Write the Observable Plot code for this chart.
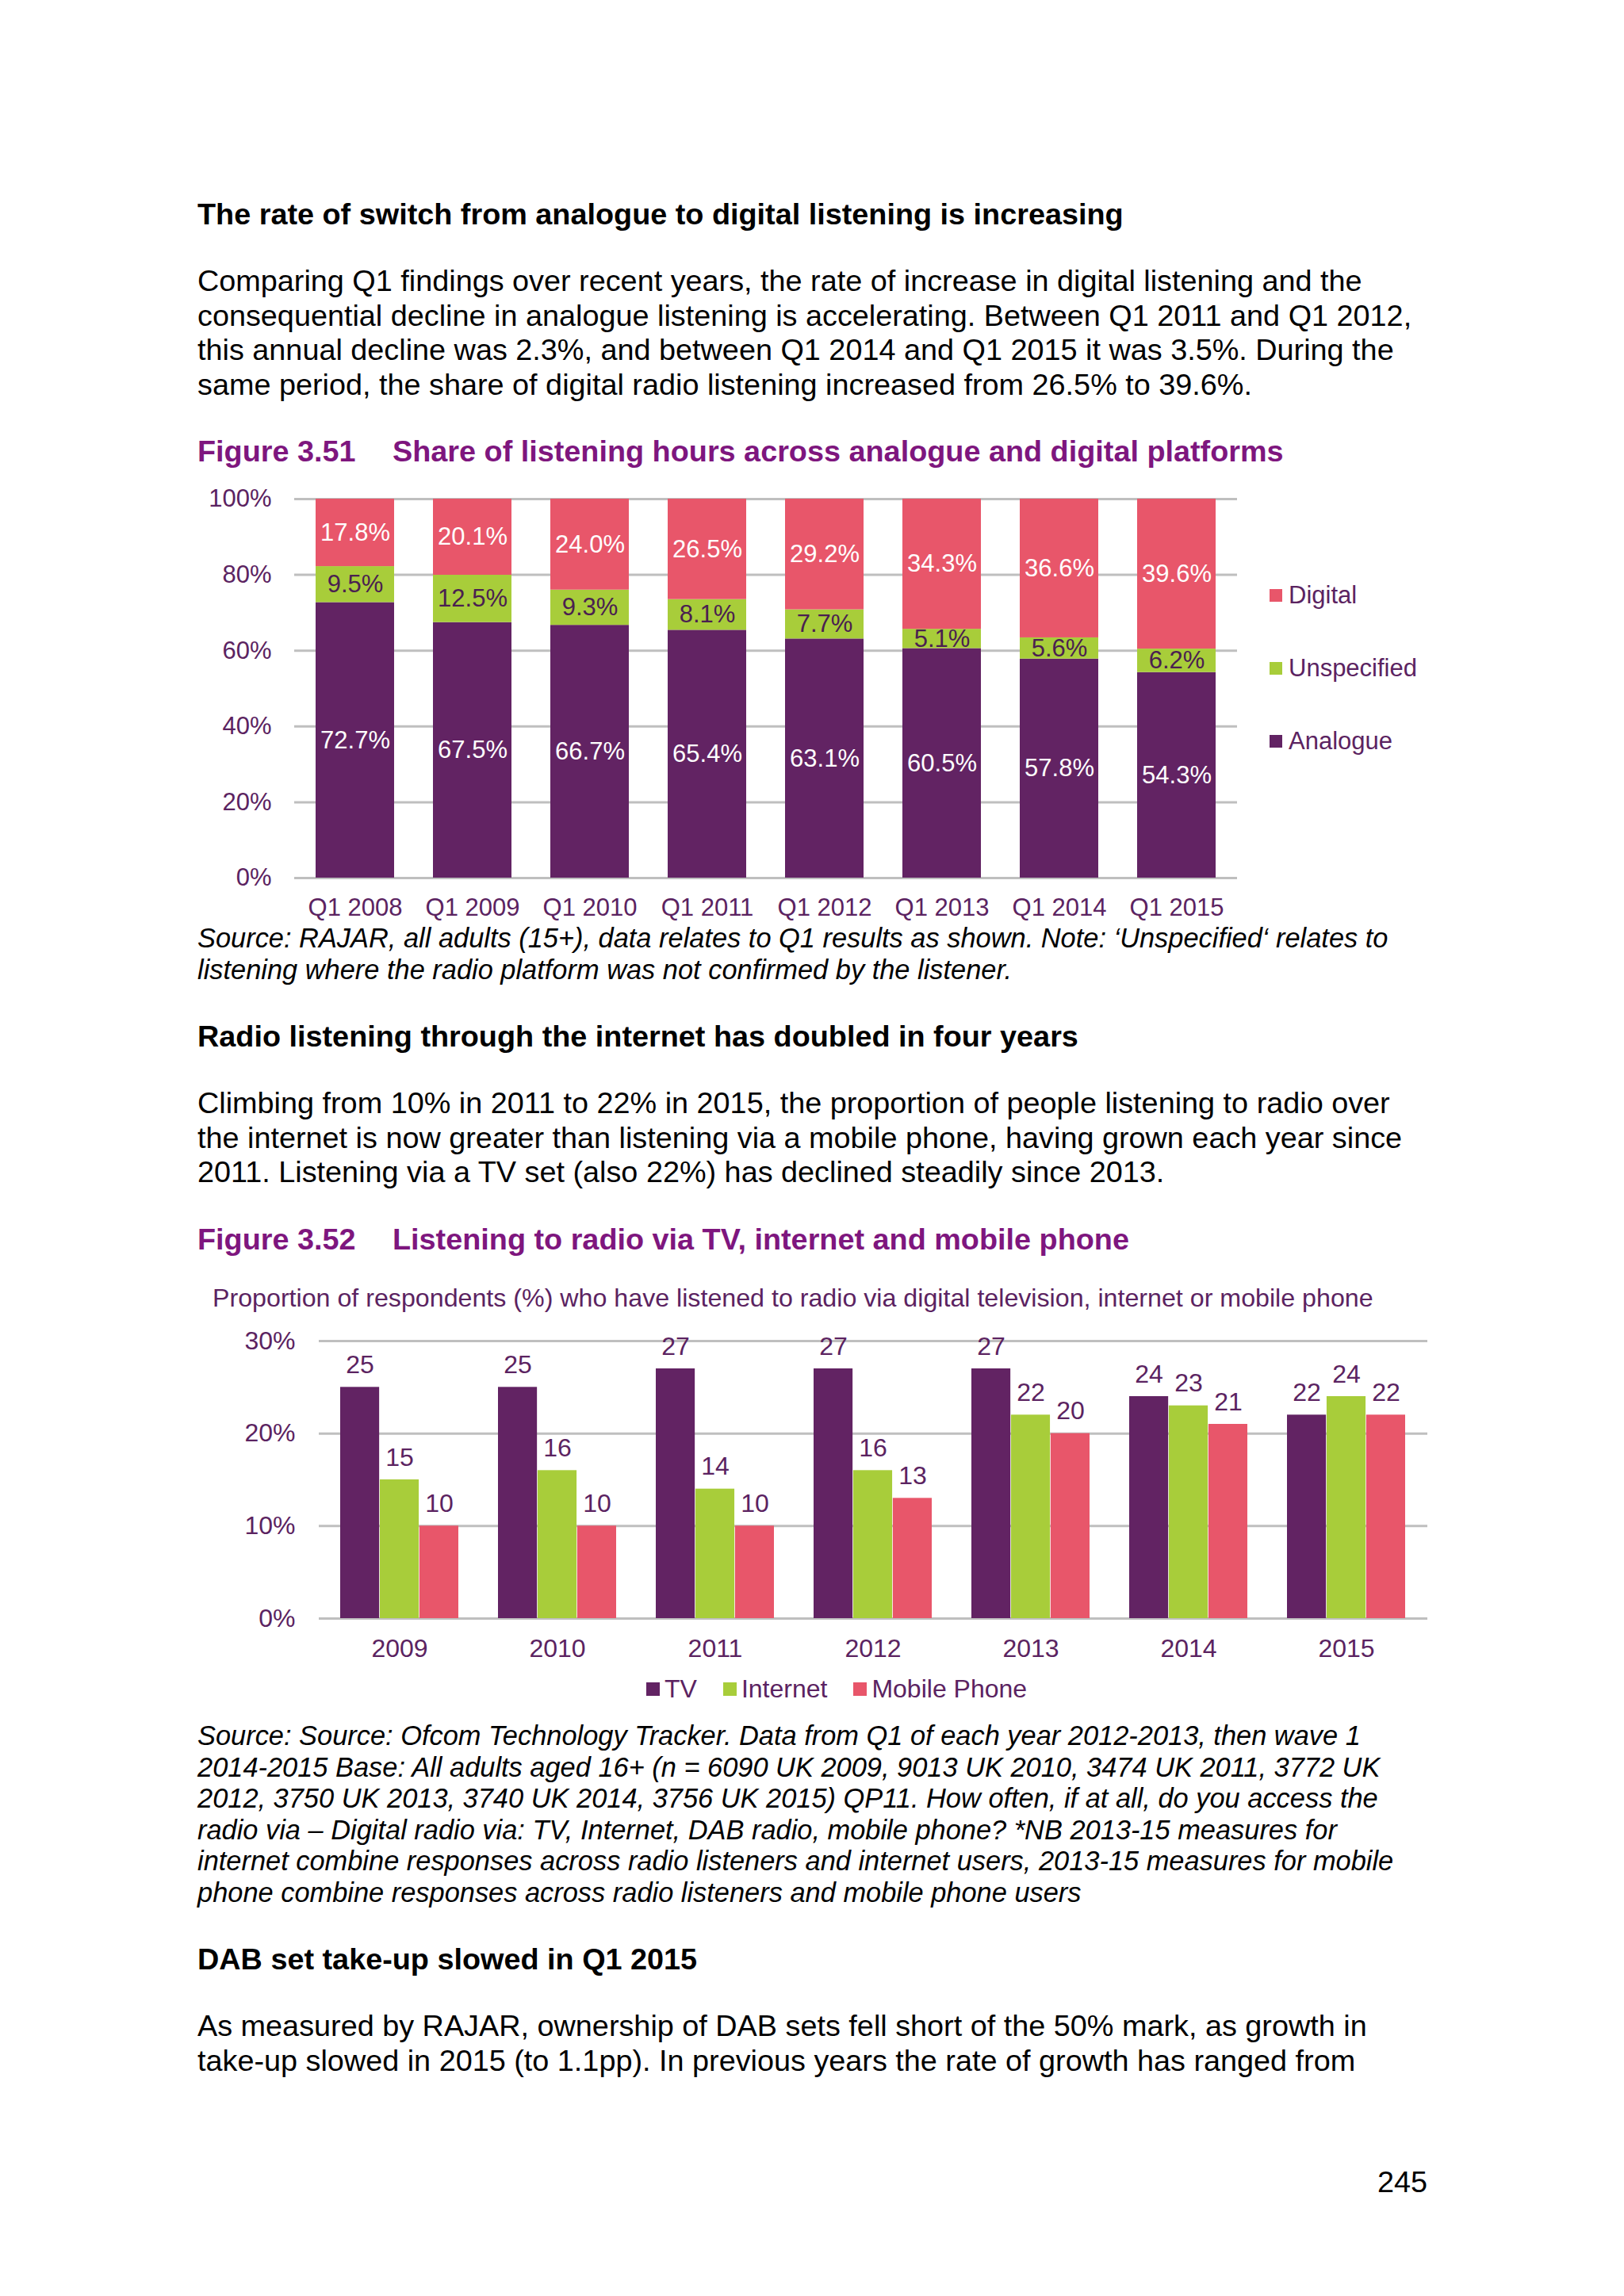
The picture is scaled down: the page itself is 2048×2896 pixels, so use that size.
<!DOCTYPE html>
<html>
<head>
<meta charset="utf-8">
<script src="https://cdn.jsdelivr.net/npm/d3@7"></script>
<script src="https://cdn.jsdelivr.net/npm/@observablehq/plot@0.6"></script>
<style>
html,body{margin:0;padding:0;background:#fff;}
#page{position:relative;width:2048px;height:2896px;font-family:"Liberation Sans",Arial,sans-serif;color:#000;overflow:hidden;background:#fff;}
.t{position:absolute;white-space:pre;margin:0;}
.body{font-size:37.8px;line-height:43.7px;}
.h{font-size:37.8px;font-weight:bold;line-height:44px;}
.fig{font-size:37.8px;font-weight:bold;line-height:44px;color:#7e167e;}
.cap{font-size:34.4px;font-style:italic;line-height:39.6px;}
.chart{position:absolute;}
.sub{font-size:32.2px;line-height:40px;color:#5b2361;}
.leg{position:absolute;display:flex;align-items:center;height:44px;font-size:31px;line-height:44px;color:#5b2361;white-space:pre;}
.sw{display:inline-block;}
</style>
</head>
<body>
<div id="page">
  <div class="t h" style="left:249px;top:248px;">The rate of switch from analogue to digital listening is increasing</div>
  <div class="t body" style="left:249px;top:333px;">Comparing Q1 findings over recent years, the rate of increase in digital listening and the
consequential decline in analogue listening is accelerating. Between Q1 2011 and Q1 2012,
this annual decline was 2.3%, and between Q1 2014 and Q1 2015 it was 3.5%. During the
same period, the share of digital radio listening increased from 26.5% to 39.6%.</div>
  <div class="t fig" style="left:249px;top:547px;">Figure 3.51</div>
  <div class="t fig" style="left:495px;top:547px;">Share of listening hours across analogue and digital platforms</div>
  <div id="chart1" class="chart" style="left:240px;top:600px;"></div>
  <div id="legend1"></div>
  <div class="t cap" style="left:249px;top:1164px;">Source: RAJAR, all adults (15+), data relates to Q1 results as shown. Note: ‘Unspecified‘ relates to
listening where the radio platform was not confirmed by the listener.</div>
  <div class="t h" style="left:249px;top:1285px;">Radio listening through the internet has doubled in four years</div>
  <div class="t body" style="left:249px;top:1370px;">Climbing from 10% in 2011 to 22% in 2015, the proportion of people listening to radio over
the internet is now greater than listening via a mobile phone, having grown each year since
2011. Listening via a TV set (also 22%) has declined steadily since 2013.</div>
  <div class="t fig" style="left:249px;top:1541px;">Figure 3.52</div>
  <div class="t fig" style="left:495px;top:1541px;">Listening to radio via TV, internet and mobile phone</div>
  <div class="t sub" style="left:268px;top:1617px;">Proportion of respondents (%) who have listened to radio via digital television, internet or mobile phone</div>
  <div id="chart2" class="chart" style="left:240px;top:1660px;"></div>
  <div id="legend2"></div>
  <div class="t cap" style="left:249px;top:2170px;">Source: Source: Ofcom Technology Tracker. Data from Q1 of each year 2012-2013, then wave 1
2014-2015 Base: All adults aged 16+ (n = 6090 UK 2009, 9013 UK 2010, 3474 UK 2011, 3772 UK
2012, 3750 UK 2013, 3740 UK 2014, 3756 UK 2015) QP11. How often, if at all, do you access the
radio via – Digital radio via: TV, Internet, DAB radio, mobile phone? *NB 2013-15 measures for
internet combine responses across radio listeners and internet users, 2013-15 measures for mobile
phone combine responses across radio listeners and mobile phone users</div>
  <div class="t h" style="left:249px;top:2449px;">DAB set take-up slowed in Q1 2015</div>
  <div class="t body" style="left:249px;top:2534px;">As measured by RAJAR, ownership of DAB sets fell short of the 50% mark, as growth in
take-up slowed in 2015 (to 1.1pp). In previous years the rate of growth has ranged from</div>
  <div class="t body" style="right:248px;top:2731px;">245</div>
</div>
<script>
// ---------- Figure 3.51 data ----------
const quarters = ["Q1 2008","Q1 2009","Q1 2010","Q1 2011","Q1 2012","Q1 2013","Q1 2014","Q1 2015"];
const platforms = ["Analogue","Unspecified","Digital"];
const analogue    = [72.7, 67.5, 66.7, 65.4, 63.1, 60.5, 57.8, 54.3];
const unspecified = [9.5, 12.5, 9.3, 8.1, 7.7, 5.1, 5.6, 6.2];
const digital     = [17.8, 20.1, 24.0, 26.5, 29.2, 34.3, 36.6, 39.6];
const shareTicks  = [0, 0.2, 0.4, 0.6, 0.8, 1];

// ---------- Figure 3.52 data ----------
const years = ["2009","2010","2011","2012","2013","2014","2015"];
const devices = ["TV","Internet","Mobile Phone"];
const tv       = [25, 25, 27, 27, 27, 24, 22];
const internet = [15, 16, 14, 16, 22, 23, 24];
const mobile   = [10, 10, 10, 13, 20, 21, 22];
const pctTicks = [0, 10, 20, 30];

// ---------- styles ----------
const PURPLE = "#622363", GREEN = "#a8cd3a", PINK = "#e8566a";
const TEXTC = "#5b2361";
const segColor = {Analogue: PURPLE, Unspecified: GREEN, Digital: PINK};
const segLabel = {Analogue: "#ffffff", Unspecified: "#4a2050", Digital: "#ffffff"};
const devColor = {"TV": PURPLE, "Internet": GREEN, "Mobile Phone": PINK};
const plotStyle = {fontFamily: '"Liberation Sans", Arial, sans-serif', fontSize: "31px", color: TEXTC, background: "transparent", overflow: "visible"};
const plotStyle2 = {...plotStyle, fontSize: "32px"};
const gridOpts = {stroke: "#bfbfbf", strokeOpacity: 1, strokeWidth: 3};

// long table for chart 1
const seriesBy = {Analogue: analogue, Unspecified: unspecified, Digital: digital};
const data1 = [];
quarters.forEach((q, i) => platforms.forEach(p => data1.push({quarter: q, type: p, value: seriesBy[p][i]})));

const chart1 = Plot.plot({
  width: 1340, height: 580,
  marginLeft: 131, marginRight: 20, marginTop: 29, marginBottom: 73,
  style: plotStyle,
  x: {domain: quarters, paddingInner: 0.334, paddingOuter: 0.167, label: null},
  y: {domain: [0, 1], label: null},
  color: {type: "identity"},
  marks: [
    Plot.gridY(shareTicks, gridOpts),
    Plot.axisY(shareTicks, {tickSize: 0, tickPadding: 29, tickFormat: d3.format(".0%"), label: null}),
    Plot.axisX({tickSize: 0, tickPadding: 25, label: null}),
    Plot.barY(data1, Plot.stackY({x: "quarter", y: "value", z: "type", offset: "normalize", fill: d => segColor[d.type]})),
    Plot.text(data1, Plot.stackY({x: "quarter", y: "value", z: "type", offset: "normalize",
      text: d => d.value.toFixed(1) + "%", fill: d => segLabel[d.type]}))
  ]
});
document.getElementById("chart1").appendChild(chart1);

// legend 1
const leg1 = [["Digital", PINK, 751], ["Unspecified", GREEN, 843], ["Analogue", PURPLE, 935]];
const l1 = document.getElementById("legend1");
leg1.forEach(([name, col, cy]) => {
  const d = document.createElement("div");
  d.className = "leg";
  d.style.left = "1601px"; d.style.top = (cy - 22) + "px";
  d.innerHTML = `<span class="sw" style="width:16px;height:16px;background:${col};margin-right:8px;"></span><span>${name}</span>`;
  l1.appendChild(d);
});

// long table for chart 2
const devBy = {"TV": tv, "Internet": internet, "Mobile Phone": mobile};
const data2 = [];
years.forEach((y, i) => devices.forEach(s => data2.push({year: y, series: s, value: devBy[s][i]})));

const third = 49.93;
const marks2 = [
  Plot.gridY(pctTicks, gridOpts),
  Plot.axisY(pctTicks, {tickSize: 0, tickPadding: 30, tickFormat: d => d + "%", label: null}),
  Plot.axisX({tickSize: 0, tickPadding: 26, label: null})
];
devices.forEach((s, i) => {
  const sub = data2.filter(d => d.series === s);
  marks2.push(Plot.barY(sub, {x: "year", y: "value", fill: devColor[s], insetLeft: i * third, insetRight: (2 - i) * third}));
  marks2.push(Plot.text(sub, {x: "year", y: "value", text: d => String(d.value), dx: (i - 1) * third, dy: -28, fill: TEXTC}));
});
const chart2 = Plot.plot({
  width: 1600, height: 440,
  marginLeft: 162, marginRight: 40, marginTop: 31, marginBottom: 59,
  style: plotStyle2,
  x: {domain: years, paddingInner: 0.25, paddingOuter: 0.125, label: null},
  y: {domain: [0, 30], label: null},
  marks: marks2
});
document.getElementById("chart2").appendChild(chart2);

// legend 2
const l2 = document.getElementById("legend2");
const row = document.createElement("div");
row.className = "leg";
row.style.left = "815px"; row.style.top = (2130 - 22) + "px"; row.style.fontSize = "32px";
row.innerHTML = devices.map((s, i) =>
  `<span class="sw" style="width:17px;height:17px;background:${devColor[s]};margin-right:6px;${i ? "margin-left:33px;" : ""}"></span><span>${s}</span>`
).join("");
l2.appendChild(row);
</script>
</body>
</html>
